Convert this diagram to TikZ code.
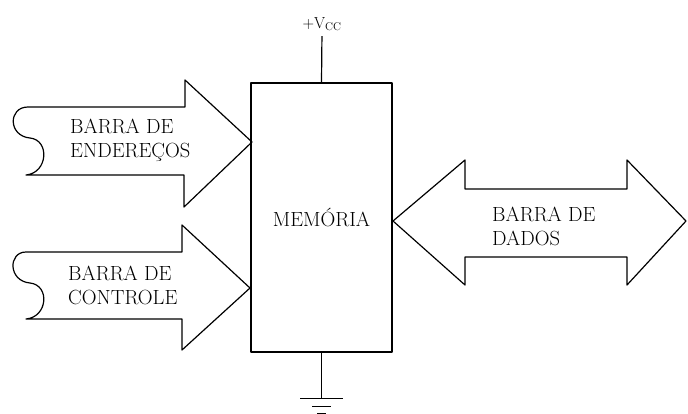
\documentclass[tikz,border=0pt]{standalone}
\usetikzlibrary{calc}
\begin{document}
\begin{tikzpicture}[
  x=1pt, y=-1pt,
  line join=round,
  txt/.style={font=\fontsize{20.5}{24}\selectfont, inner sep=0pt},
  lbl/.style={txt, align=left, anchor=west},
  bus/.style={draw, line width=1.2pt},
  wire/.style={line width=1.2pt},
]
\useasboundingbox (0,0) rectangle (688,413);

% --- memory block ---
\node[txt, draw, line width=1.3pt, minimum width=141pt, minimum height=269pt] (mem) at (321.5,217.5) {MEM\'ORIA};

% --- supply and ground ---
\node[font=\fontsize{16}{18}\selectfont, inner sep=0pt] (vcc) at (322,24) {+V\textsubscript{CC}};
\draw[wire, shorten >=5pt] (mem.north) -- (vcc.south);
\coordinate (gnd) at ($(mem.south)+(0,46)$);
\draw[wire] (mem.south) -- (gnd);
\draw[wire] ($(gnd)+(-21.5,0)$) -- ++(43,0);
\draw[wire] ($(gnd)+(-9.5,8)$) -- ++(19,0);
\draw[wire] ($(gnd)+(-4.5,15)$) -- ++(9,0);

% --- address bus (in) ---
\draw[bus] (185,107) -- (185,80) -- (252,142) -- (184,207) -- (184,175) -- (26,175)
  .. controls (48,173) and (50,140) .. (30,138)
  .. controls (8,136) and (8,107) .. (28,107) -- cycle;
\node[lbl] (addr) at (70,140) {BARRA DE\\ENDERE\c{C}OS};

% --- control bus (in) ---
\draw[bus] (182,252) -- (182,225) -- (250,288) -- (182,350) -- (182,319) -- (26,319)
  .. controls (48,317) and (50,285) .. (30,283)
  .. controls (8,281) and (8,252) .. (26,252) -- cycle;
\node[lbl] (ctrl) at (68,285) {BARRA DE\\CONTROLE};

% --- data bus (both ways) ---
\draw[bus] (393,221) -- (465,160) -- (465,189) -- (627,189) -- (627,160) -- (686,221)
  -- (627,285) -- (627,257) -- (465,257) -- (465,285) -- cycle;
\node[lbl] (data) at (492,226) {BARRA DE\\DADOS};

\end{tikzpicture}
\end{document}
